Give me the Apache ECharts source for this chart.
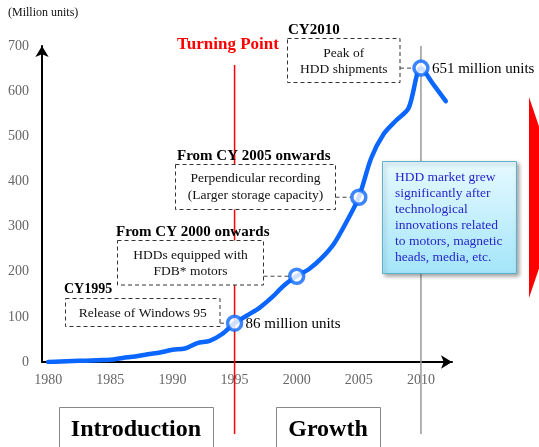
<!DOCTYPE html>
<html><head><meta charset="utf-8">
<script src="https://cdn.jsdelivr.net/npm/echarts@6/dist/echarts.min.js"></script>
<style>html,body{margin:0;padding:0;background:#fff}#c{width:539px;height:447px}</style>
</head><body><div id="c"></div>
<script>
// ---- data ----
const years = [1980,1981,1982,1983,1984,1985,1986,1987,1988,1989,1990,1991,1992,1993,1994,1995,1996,1997,1998,1999,2000,2001,2002,2003,2004,2005,2006,2007,2008,2009,2010,2011,2012];
const shipments = [0,1,2,3,4,5,9,12,17,21,27,30,42,47,62,86,103,120,143,170,190,206,230,262,310,365,452,505,535,562,651,615,578];
const highlightYears = [1995,2000,2005,2010];
const xTickLabels = [1980,1985,1990,1995,2000,2005,2010];
const yTickLabels = [0,100,200,300,400,500,600,700];
const valueLabels = {1995:'86 million units', 2010:'651 million units'};
const unitLabel = '(Million units)';
const turningYear = 1995;
const peakYear = 2010;
const phaseLabels = ['Introduction','Growth'];
const annHeaders = ['CY1995','From CY 2000 onwards','From CY 2005 onwards','CY2010'];
const annTexts = ['Release of Windows 95','HDDs equipped with\nFDB* motors','Perpendicular recording\n(Larger storage capacity)','Peak of\nHDD shipments'];
const noteLines = ['HDD market grew','significantly after','technological','innovations related','to motors, magnetic','heads, media, etc.'];

const FONT = '"Liberation Serif", "Times New Roman", serif';
const BLUE = '#0a66ff';
const chart = echarts.init(document.getElementById('c'), null, {renderer:'canvas'});

const lineData = years.map((y,i)=>[y, shipments[i]]);
const hiData = highlightYears.map(y=>[y, shipments[years.indexOf(y)]]);

chart.setOption({
  animation:false,
  grid:{left:42, right:87, top:46, bottom:85, containLabel:false},
  xAxis:{type:'value', min:1979.5, max:2012.5,
    axisLine:{show:true, lineStyle:{color:'#000', width:2}, symbol:['none','arrow'], symbolSize:[10,11]},
    axisTick:{show:false}, splitLine:{show:false},
    axisLabel:{customValues:xTickLabels, color:'#666', fontFamily:FONT, fontSize:14, margin:11,
      formatter:v=>String(v)}},
  yAxis:{type:'value', min:0, max:700, interval:100,
    axisLine:{show:true, lineStyle:{color:'#000', width:2}, symbol:['none','arrow'], symbolSize:[10,11]},
    axisTick:{show:false}, splitLine:{show:false},
    axisLabel:{color:'#666', fontFamily:FONT, fontSize:14, margin:13,
      formatter:v=> yTickLabels.includes(v)? String(v):''}},
  series:[
    {type:'line', data:lineData, smooth:0.3, symbol:'none', z:3,
     lineStyle:{color:BLUE, width:4.5, cap:'round', join:'round'}},
    {type:'scatter', data:hiData, symbol:'circle', symbolSize:14, z:6,
     itemStyle:{color:'#fff', borderColor:BLUE, borderWidth:3.5}}
  ]
});

function px(x,y){ return chart.convertToPixel({gridIndex:0},[x,y]); }
const g = [];
const tx = px(turningYear,0)[0];
const pk = px(peakYear,0)[0];
// vertical lines
g.push({type:'line', z:1, shape:{x1:tx,y1:65,x2:tx,y2:434}, style:{stroke:'#ff0000', lineWidth:1.5}});
g.push({type:'line', z:1, shape:{x1:pk,y1:46,x2:pk,y2:434}, style:{stroke:'#999', lineWidth:1.5}});
// unit label
g.push({type:'text', z:20, style:{text:unitLabel, x:8, y:13, font:'12px '+FONT, fill:'#111', verticalAlign:'middle'}});
// turning point
g.push({type:'text', z:20, style:{text:'Turning Point', x:228, y:45, font:'bold 17px '+FONT, fill:'#ff0000', align:'center', verticalAlign:'middle'}});
// value labels next to highlighted points
Object.keys(valueLabels).forEach(k=>{
  const yr = +k;
  const c = px(yr, shipments[years.indexOf(yr)]);
  g.push({type:'text', z:20, style:{text:valueLabels[k], x:c[0]+11, y:c[1]+1, font:'15px '+FONT, fill:'#000', verticalAlign:'middle'}});
});

// annotation boxes
const boxes = [
  {hx:64, hy:289.5, hs:14, x:65.5, y:298.5, w:154.5, h:28, ty:313.5, year:1995},
  {hx:116, hy:232.5, hs:15, x:117.5, y:240.5, w:146, h:44.5, ty:263.5, year:2000},
  {hx:177, hy:156, hs:15, x:175.5, y:164.5, w:160, h:45, ty:187, year:2005},
  {hx:288, hy:30, hs:15, x:287.5, y:38.5, w:112.5, h:44, ty:61.5, year:2010}
];
boxes.forEach((b,i)=>{
  g.push({type:'text', z:12, style:{text:annHeaders[i], x:b.hx, y:b.hy, font:'bold '+b.hs+'px '+FONT, fill:'#000', verticalAlign:'middle'}});
  g.push({type:'rect', z:10, shape:{x:b.x, y:b.y, width:b.w, height:b.h}, style:{fill:'#fff', stroke:'#333', lineWidth:1, lineDash:[4,3]}});
  g.push({type:'text', z:12, style:{text:annTexts[i], x:b.x+b.w/2, y:b.ty, font:'13.5px '+FONT, fill:'#111', align:'center', verticalAlign:'middle', lineHeight:16.5}});
  const c = px(b.year, shipments[years.indexOf(b.year)]);
  g.push({type:'line', z:10, shape:{x1:b.x+b.w, y1:c[1], x2:c[0]-8, y2:c[1]}, style:{stroke:'#444', lineWidth:1, lineDash:[4,3]}});
});

// note box
g.push({type:'rect', z:10, shape:{x:382.5, y:161.5, width:134, height:112},
  style:{fill:{type:'linear',x:0,y:0,x2:0,y2:1,colorStops:[{offset:0,color:'#e6faff'},{offset:1,color:'#a4e5fa'}]},
    stroke:'#5fb0c8', lineWidth:1, shadowBlur:4, shadowColor:'rgba(0,0,0,0.35)', shadowOffsetX:2, shadowOffsetY:2}});
g.push({type:'text', z:12, style:{text:noteLines.join('\n'), x:395, y:169.5, font:'13.5px '+FONT, fill:'#2626cc', verticalAlign:'top', lineHeight:16}});

// red arrow at right edge
g.push({type:'polygon', z:5, shape:{points:[[529,97],[563,197.5],[529,298]]}, style:{fill:'#ff0000'}});

// phase boxes
g.push({type:'rect', z:10, shape:{x:59.5, y:407.5, width:154, height:60}, style:{fill:'#fff', stroke:'#888', lineWidth:1}});
g.push({type:'text', z:12, style:{text:phaseLabels[0], x:136, y:430, font:'bold 24px '+FONT, fill:'#000', align:'center', verticalAlign:'middle'}});
g.push({type:'rect', z:10, shape:{x:276.5, y:407.5, width:104, height:60}, style:{fill:'#fff', stroke:'#888', lineWidth:1}});
g.push({type:'text', z:12, style:{text:phaseLabels[1], x:328, y:430, font:'bold 24px '+FONT, fill:'#000', align:'center', verticalAlign:'middle'}});

chart.setOption({graphic:{elements:g}});
</script>
</body></html>
